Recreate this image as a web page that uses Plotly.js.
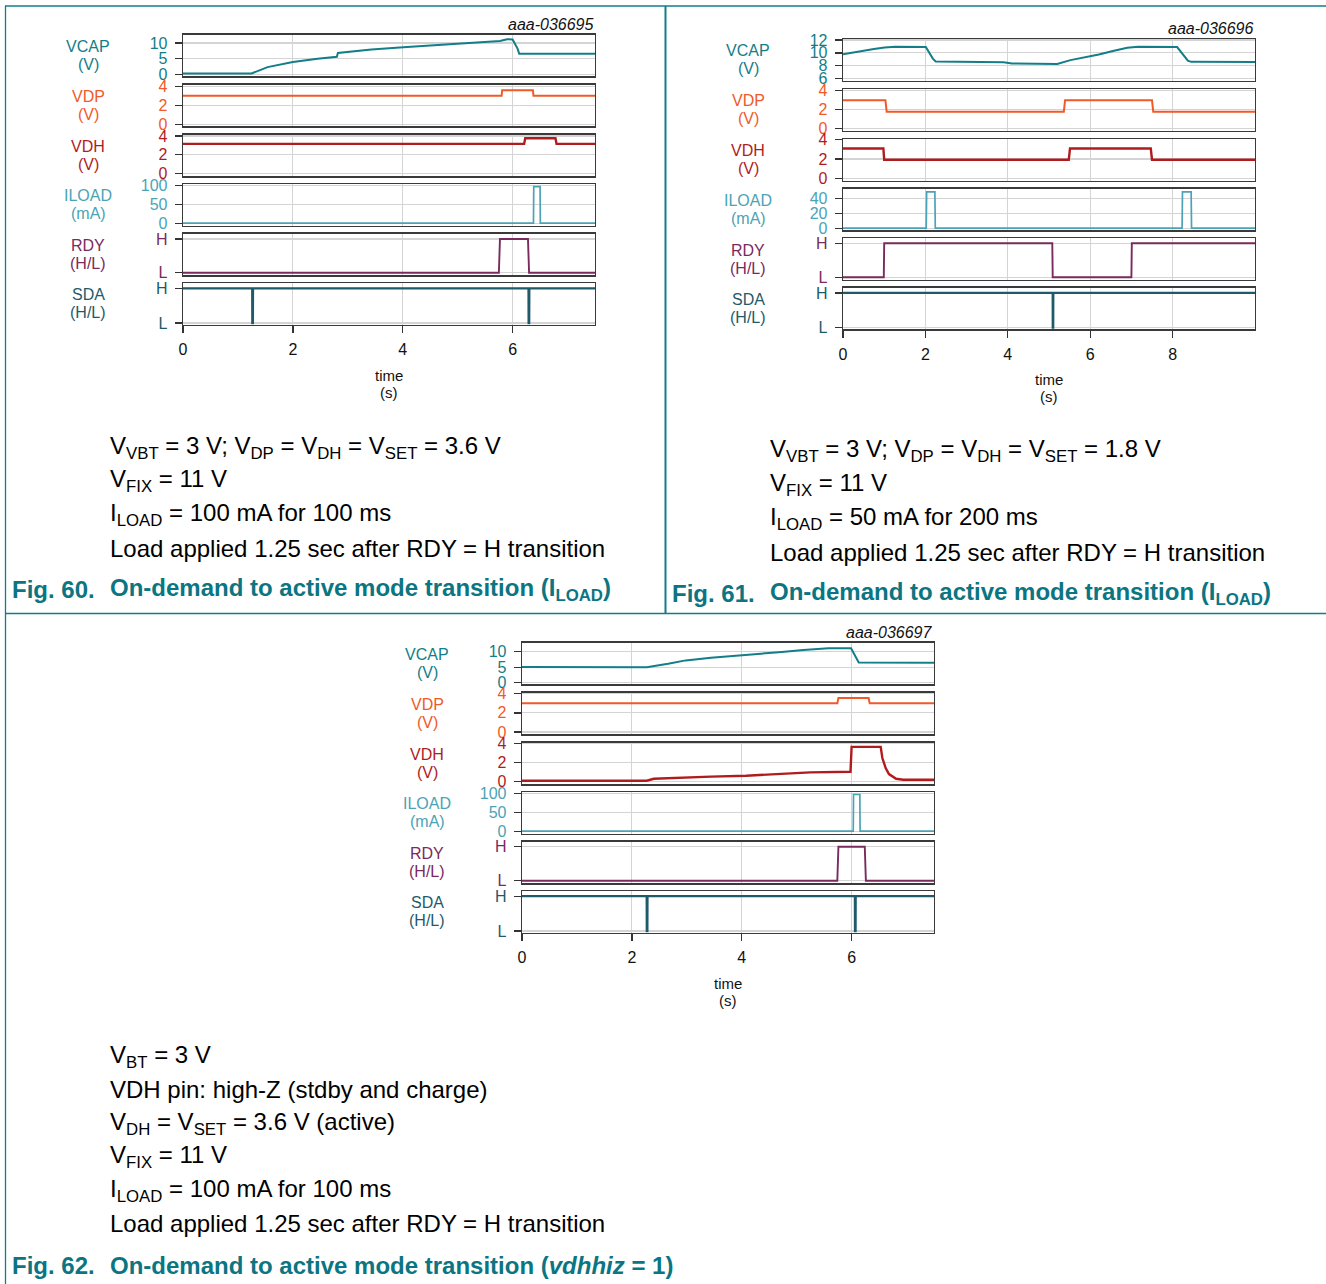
<!DOCTYPE html>
<html><head><meta charset="utf-8">
<script src="https://cdn.plot.ly/plotly-3.0.1.min.js"></script>
<style>html,body{margin:0;padding:0;background:#fff}#g{width:1326px;height:1284px}</style>
</head><body><div id="g"></div>
<script>
// ---------- DATA ----------
// Fig. 60
const t60_vcap = [0, 0.3, 0.65, 0.9, 1.25, 1.54, 2.0, 2.45, 2.8, 2.82, 3.43, 4.01, 4.73, 5.38, 5.77, 5.9, 6.0, 6.09, 6.12, 7.5];
const v60_vcap = [0.3, 0.3, 0.45, 0.3, 0.3, 2.3, 3.9, 5.0, 5.6, 6.8, 7.9, 8.6, 9.4, 10.2, 10.6, 11.2, 11.1, 8.2, 6.6, 6.6];
const t60_vdp = [0, 5.8, 5.81, 6.37, 6.38, 7.5];
const v60_vdp = [3.0, 3.0, 3.6, 3.6, 3.0, 3.0];
const t60_vdh = [0, 6.21, 6.23, 6.78, 6.8, 7.5];
const v60_vdh = [3.15, 3.15, 3.75, 3.75, 3.15, 3.15];
const t60_iload = [0, 6.38, 6.385, 6.5, 6.505, 7.5];
const v60_iload = [0.8, 0.8, 98, 98, 0.8, 0.8];
const t60_rdy = [0, 5.75, 5.77, 6.28, 6.3, 7.5];
const v60_rdy = [0, 0, 1, 1, 0, 0];
const t60_sda = [0, 1.26, 1.262, 1.272, 1.274, 6.29, 6.292, 6.302, 6.304, 7.5];
const v60_sda = [1, 1, 0, 0, 1, 1, 0, 0, 1, 1];
// Fig. 61
const t61_vcap = [0, 0.23, 0.49, 0.75, 1.01, 1.27, 2.01, 2.18, 2.25, 3.9, 4.1, 5.2, 5.52, 5.95, 6.21, 6.55, 6.9, 7.16, 8.11, 8.37, 8.45, 10];
const v61_vcap = [9.8, 10.07, 10.4, 10.6, 10.85, 10.96, 10.9, 9.1, 8.65, 8.55, 8.35, 8.25, 8.87, 9.4, 9.76, 10.3, 10.8, 10.96, 10.9, 8.8, 8.6, 8.56];
const t61_vdp = [0, 1.03, 1.06, 5.36, 5.39, 7.5, 7.53, 10];
const v61_vdp = [2.97, 2.97, 1.77, 1.77, 2.97, 2.97, 1.77, 1.77];
const t61_vdh = [0, 0.98, 1.0, 5.48, 5.51, 7.47, 7.5, 10];
const v61_vdh = [3.1, 3.1, 1.93, 1.93, 3.1, 3.1, 1.93, 1.93];
const t61_iload = [0, 2.02, 2.03, 2.23, 2.24, 6.5, 6.73, 7.0, 8.23, 8.24, 8.45, 8.46, 10];
const v61_iload = [0.5, 0.5, 48.9, 48.9, 0.5, 0.5, 1.5, 0.5, 0.5, 48.9, 48.9, 0.5, 0.5];
const t61_rdy = [0, 0.99, 1.0, 5.08, 5.09, 7.0, 7.01, 10];
const v61_rdy = [0, 0, 1, 1, 0, 0, 1, 1];
const t61_sda = [0, 5.09, 5.092, 5.102, 5.104, 10];
const v61_sda = [1, 1, 0, 0, 1, 1];
// Fig. 62
const t62_vcap = [0, 1.2, 1.5, 2.27, 2.66, 2.98, 3.44, 4.02, 4.34, 4.73, 5.12, 5.58, 5.99, 6.06, 6.13, 7.5];
const v62_vcap = [5.05, 5.0, 4.95, 5.0, 6.1, 7.2, 8.06, 8.8, 9.35, 9.9, 10.5, 11.07, 11.07, 8.9, 6.5, 6.45];
const t62_vdp = [0, 5.74, 5.76, 6.31, 6.33, 7.5];
const v62_vdp = [2.99, 2.99, 3.55, 3.55, 2.99, 2.99];
const t62_vdh = [0, 2.27, 2.4, 2.85, 3.44, 4.08, 4.73, 5.25, 5.98, 6.0, 6.53, 6.56, 6.62, 6.68, 6.81, 6.94, 7.5];
const v62_vdh = [0.1, 0.1, 0.3, 0.42, 0.53, 0.63, 0.8, 0.98, 1.05, 3.68, 3.68, 2.5, 1.44, 0.8, 0.3, 0.2, 0.2];
const t62_iload = [0, 6.03, 6.035, 6.15, 6.155, 7.5];
const v62_iload = [0.5, 0.5, 98, 98, 0.5, 0.5];
const t62_rdy = [0, 5.74, 5.76, 6.24, 6.26, 7.5];
const v62_rdy = [0, 0, 1, 1, 0, 0];
const t62_sda = [0, 2.27, 2.272, 2.282, 2.284, 6.06, 6.062, 6.072, 6.074, 7.5];
const v62_sda = [1, 1, 0, 0, 1, 1, 0, 0, 1, 1];

// labels
const signalNames = ['VCAP', 'VDP', 'VDH', 'ILOAD', 'RDY', 'SDA'];
const signalUnits = ['(V)', '(V)', '(V)', '(mA)', '(H/L)', '(H/L)'];
const xTicks60 = [0, 2, 4, 6];
const xTicks61 = [0, 2, 4, 6, 8];
const xTicks62 = [0, 2, 4, 6];
const figIds = ['aaa-036695', 'aaa-036696', 'aaa-036697'];
const hlTickText = ['L', 'H'];

// ---------- STYLE / LAYOUT ----------
const W = 1326, H = 1284;
const fx = p => p / W, fy = p => 1 - p / H;
const FONT = 'Liberation Sans, Arial, sans-serif';
const colors = ['#137d88', '#f05a28', '#b01c1e', '#4ba3b5', '#7a2a5e', '#1f5a6b'];
const widths = [2, 2, 2.4, 1.7, 1.9, 2.3];
const relTop = [0, 50, 100, 149.6, 199.2, 248.6];
const PH = 41.7;

const charts = [
  {left: 183, right: 595, top: 34.5, xr: [0, 7.5], xt: xTicks60, labx: 88,
   series: [[t60_vcap, v60_vcap], [t60_vdp, v60_vdp], [t60_vdh, v60_vdh], [t60_iload, v60_iload], [t60_rdy, v60_rdy], [t60_sda, v60_sda]],
   yr: [[-0.6, 12.7], [-0.2, 4.2], [-0.3, 4.15], [-6.5, 104.5], [-0.08, 1.155], [-0.05, 1.155]],
   yt: [[0, 5, 10], [0, 2, 4], [0, 2, 4], [0, 50, 100], [0, 1], [0, 1]]},
  {left: 843, right: 1255, top: 39, xr: [0, 10], xt: xTicks61, labx: 748,
   series: [[t61_vcap, v61_vcap], [t61_vdp, v61_vdp], [t61_vdh, v61_vdh], [t61_iload, v61_iload], [t61_rdy, v61_rdy], [t61_sda, v61_sda]],
   yr: [[5.66, 12.16], [-0.22, 4.15], [-0.25, 4.08], [-2.4, 53.3], [-0.08, 1.15], [-0.05, 1.155]],
   yt: [[6, 8, 10, 12], [0, 2, 4], [0, 2, 4], [0, 20, 40], [0, 1], [0, 1]]},
  {left: 522, right: 934, top: 642.5, xr: [0, 7.5], xt: xTicks62, labx: 427,
   series: [[t62_vcap, v62_vcap], [t62_vdp, v62_vdp], [t62_vdh, v62_vdh], [t62_iload, v62_iload], [t62_rdy, v62_rdy], [t62_sda, v62_sda]],
   yr: [[-0.45, 12.95], [-0.22, 4.12], [-0.27, 4.14], [-6.8, 104.4], [-0.08, 1.15], [-0.05, 1.145]],
   yt: [[0, 5, 10], [0, 2, 4], [0, 2, 4], [0, 50, 100], [0, 1], [0, 1]]}
];

const traces = [];
const layout = {
  width: W, height: H, margin: {l: 0, r: 0, t: 0, b: 0},
  paper_bgcolor: '#fff', plot_bgcolor: '#fff', showlegend: false,
  font: {family: FONT, size: 16, color: '#000'},
  annotations: [], shapes: []
};

function note(x, y, t, size, color, xanchor) {
  layout.annotations.push({xref: 'paper', yref: 'paper', x: fx(x), y: fy(y),
    xanchor: xanchor || 'center', yanchor: 'middle', showarrow: false, align: 'center',
    text: t, font: {size: size, color: color, family: FONT}});
}

charts.forEach((c, ci) => {
  for (let p = 0; p < 6; p++) {
    const n = ci * 6 + p + 1;
    const xa = n === 1 ? 'xaxis' : 'xaxis' + n;
    const ya = n === 1 ? 'yaxis' : 'yaxis' + n;
    const xr = n === 1 ? 'x' : 'x' + n;
    const yrr = n === 1 ? 'y' : 'y' + n;
    const top = c.top + relTop[p], bot = top + PH;
    const last = p === 5;
    traces.push({x: c.series[p][0], y: c.series[p][1], type: 'scatter', mode: 'lines',
      xaxis: xr, yaxis: yrr, line: {color: colors[p], width: widths[p]}, hoverinfo: 'skip'});
    layout[xa] = {domain: [fx(c.left), fx(c.right)], anchor: yrr, range: c.xr,
      tickvals: c.xt, showgrid: true, gridcolor: '#d4d4d4', gridwidth: 1, zeroline: false,
      showline: true, mirror: true, linecolor: '#3a3a3a', linewidth: 1.3,
      ticks: last ? 'outside' : '', ticklen: 7, tickwidth: 1.3, tickcolor: '#333',
      showticklabels: last, tickfont: {size: 16, color: '#111', family: FONT}, ticklabelstandoff: 3};
    const isHL = p >= 4;
    layout[ya] = {domain: [fy(bot), fy(top)], anchor: xr, range: c.yr[p],
      tickvals: c.yt[p], ticktext: isHL ? hlTickText : undefined,
      showgrid: true, gridcolor: '#d4d4d4', gridwidth: 1.2, zeroline: false,
      showline: true, mirror: true, linecolor: '#3a3a3a', linewidth: 1.3,
      ticks: 'outside', ticklen: 7, tickwidth: 1.3, tickcolor: '#333',
      tickfont: {size: 16, color: colors[p], family: FONT}, ticklabelstandoff: 4};
    const mid = (top + bot) / 2;
    note(c.labx, mid - 9, signalNames[p], 16, colors[p]);
    note(c.labx, mid + 9, signalUnits[p], 16, colors[p]);
  }
  const bottom = c.top + relTop[5] + PH;
  note((c.left + c.right) / 2, bottom + 50.5, 'time', 15, '#111');
  note((c.left + c.right) / 2, bottom + 67.5, '(s)', 15, '#111');
  note(c.right + 1, c.top - 10, '<i>' + figIds[ci] + '</i>', 16, '#111', 'right');
});

// captions
const capColor = '#0b7581';
function txt(x, y, t, opts) {
  layout.annotations.push(Object.assign({xref: 'paper', yref: 'paper', x: fx(x), y: fy(y),
    xanchor: 'left', yanchor: 'middle', showarrow: false, align: 'left',
    text: t, font: {size: 24, color: '#000', family: FONT}}, opts || {}));
}
const cap60 = ['V<sub>VBT</sub> = 3 V; V<sub>DP</sub> = V<sub>DH</sub> = V<sub>SET</sub> = 3.6 V',
  'V<sub>FIX</sub> = 11 V', 'I<sub>LOAD</sub> = 100 mA for 100 ms', 'Load applied 1.25 sec after RDY = H transition'];
const cap61 = ['V<sub>VBT</sub> = 3 V; V<sub>DP</sub> = V<sub>DH</sub> = V<sub>SET</sub> = 1.8 V',
  'V<sub>FIX</sub> = 11 V', 'I<sub>LOAD</sub> = 50 mA for 200 ms', 'Load applied 1.25 sec after RDY = H transition'];
const cap62 = ['V<sub>BT</sub> = 3 V', 'VDH pin: high-Z (stdby and charge)', 'V<sub>DH</sub> = V<sub>SET</sub> = 3.6 V (active)',
  'V<sub>FIX</sub> = 11 V', 'I<sub>LOAD</sub> = 100 mA for 100 ms', 'Load applied 1.25 sec after RDY = H transition'];
cap60.forEach((t, i) => txt(108, 447 + i * 33.7, t));
cap61.forEach((t, i) => txt(768, 451 + i * 33.7, t));
cap62.forEach((t, i) => txt(108, 1056 + i * 33.5, t));
const bold = {font: {size: 24, color: capColor, family: FONT}};
txt(10, 589, '<b>Fig. 60.</b>', bold);
txt(108, 589, '<b>On-demand to active mode transition (I<sub>LOAD</sub>)</b>', bold);
txt(670, 593, '<b>Fig. 61.</b>', bold);
txt(768, 593, '<b>On-demand to active mode transition (I<sub>LOAD</sub>)</b>', bold);
txt(10, 1265, '<b>Fig. 62.</b>', bold);
txt(108, 1265, '<b>On-demand to active mode transition (<i>vdhhiz</i> = 1)</b>', bold);

// frame lines
const fc = '#127d88';
function ln(x0, y0, x1, y1, w) {
  layout.shapes.push({type: 'line', xref: 'paper', yref: 'paper', x0: fx(x0), y0: fy(y0), x1: fx(x1), y1: fy(y1),
    line: {color: fc, width: w}});
}
ln(5, 6, 1326, 6, 1.6);
ln(5.5, 6, 5.5, 1284, 1.3);
ln(665.5, 6, 665.5, 613.5, 2);
ln(5, 613.5, 1326, 613.5, 1.6);

Plotly.newPlot('g', traces, layout, {staticPlot: true});
</script></body></html>
